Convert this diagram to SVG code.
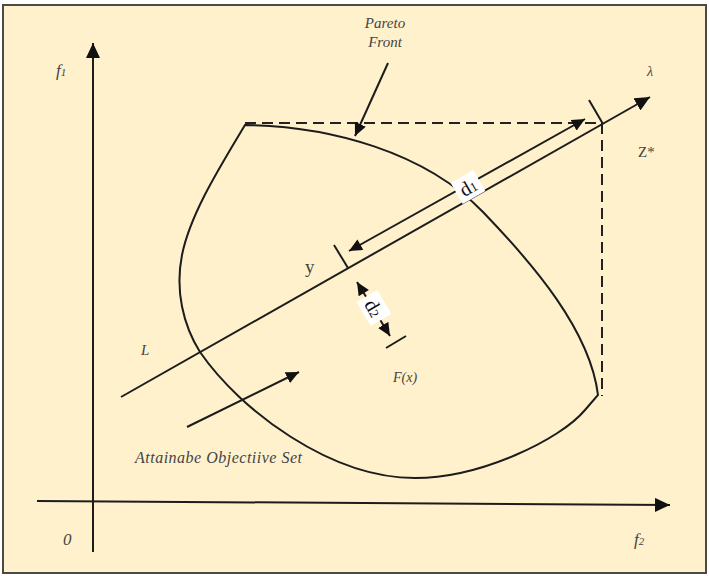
<svg xmlns="http://www.w3.org/2000/svg" width="709" height="576" viewBox="0 0 709 576">
<style>
.ln{fill:none;stroke:#1c1c1c;stroke-width:2}
.dash{fill:none;stroke:#222;stroke-width:2;stroke-dasharray:11,6}
.it{font-family:"Liberation Serif",serif;font-style:italic;fill:#444}
.rm{font-family:"Liberation Serif",serif;fill:#444}
</style>
<defs>
<marker id="ah" markerUnits="userSpaceOnUse" markerWidth="16" markerHeight="14" refX="15" refY="7" orient="auto">
<path d="M0,0 L15,7 L0,14 z" fill="#111"/>
</marker>
<marker id="as" markerUnits="userSpaceOnUse" markerWidth="14" markerHeight="12" refX="13" refY="6" orient="auto">
<path d="M0,0 L13,6 L0,12 z" fill="#111"/>
</marker>
<marker id="asr" markerUnits="userSpaceOnUse" markerWidth="14" markerHeight="12" refX="0" refY="6" orient="auto">
<path d="M13,0 L0,6 L13,12 z" fill="#111"/>
</marker>
</defs>
<rect x="3" y="5" width="703" height="568" fill="#FFF1CC" stroke="#4a4a4a" stroke-width="2"/>

<g id="attainable-set">
<path class="ln" d="M245,125 C330,126 425,152 483,212 C533,264 590,330 598,395 L585,410 C560,440 480,478 415,478 C330,478 240,410 200,352 C183,325 175,290 182,255 C190,215 218,170 245,125 Z"/>
<polyline class="dash" points="245,123 602,123 602,396"/>
</g>

<g id="connectors">
<line class="ln" x1="93" y1="552" x2="93" y2="43" marker-end="url(#ah)"/>
<line class="ln" x1="37" y1="501" x2="670" y2="505" marker-end="url(#ah)"/>
<line class="ln" x1="121" y1="397" x2="650" y2="97" marker-end="url(#ah)"/>
<line class="ln" x1="603" y1="124" x2="589" y2="100"/>
<line class="ln" x1="348" y1="268" x2="334" y2="245"/>
<line class="ln" x1="349" y1="251" x2="585" y2="119" marker-start="url(#asr)" marker-end="url(#as)"/>
<line class="ln" x1="357" y1="282" x2="390" y2="336" marker-start="url(#asr)" marker-end="url(#as)"/>
<line class="ln" x1="386" y1="348" x2="406" y2="336"/>
<line class="ln" x1="388" y1="63" x2="355" y2="136" marker-end="url(#as)"/>
<line class="ln" x1="187" y1="427" x2="299" y2="372" marker-end="url(#as)"/>
</g>

<g id="label-pareto">
<text class="it" x="385" y="28" font-size="15" text-anchor="middle" fill="#222">Pareto</text>
<text class="it" x="385" y="47" font-size="15" text-anchor="middle" fill="#222">Front</text>
</g>
<g id="label-f1"><text class="it" x="56" y="76" font-size="17">f<tspan font-size="11">1</tspan></text></g>
<g id="label-lambda"><text class="it" x="647" y="76" font-size="14">λ</text></g>
<g id="label-zstar"><text class="rm" x="638" y="157" font-size="15">Z*</text></g>
<g id="label-d1">
<g transform="translate(468,187) rotate(-30)">
<rect x="-13" y="-12" width="26" height="24" fill="#fff"/>
<text x="0" y="7" font-family="Liberation Serif,serif" font-size="20" text-anchor="middle" fill="#111">d<tspan font-size="13">1</tspan></text>
</g>
</g>
<g id="label-d2">
<g transform="translate(374,308) rotate(60)">
<rect x="-14" y="-12" width="28" height="24" fill="#fff"/>
<text x="0" y="7" font-family="Liberation Serif,serif" font-size="20" text-anchor="middle" fill="#111">d<tspan font-size="13">2</tspan></text>
</g>
</g>
<g id="label-y"><text class="rm" x="305" y="273" font-size="19">y</text></g>
<g id="label-L"><text class="it" x="141" y="355" font-size="15">L</text></g>
<g id="label-Fx"><text class="it" x="393" y="382" font-size="14">F(x)</text></g>
<g id="label-attainable"><text class="it" x="135" y="463" font-size="16" textLength="167" lengthAdjust="spacing">Attainabe Objectiive Set</text></g>
<g id="label-0"><text class="it" x="63" y="545" font-size="17">0</text></g>
<g id="label-f2"><text class="it" x="634" y="545" font-size="17">f<tspan font-size="11">2</tspan></text></g>
</svg>
